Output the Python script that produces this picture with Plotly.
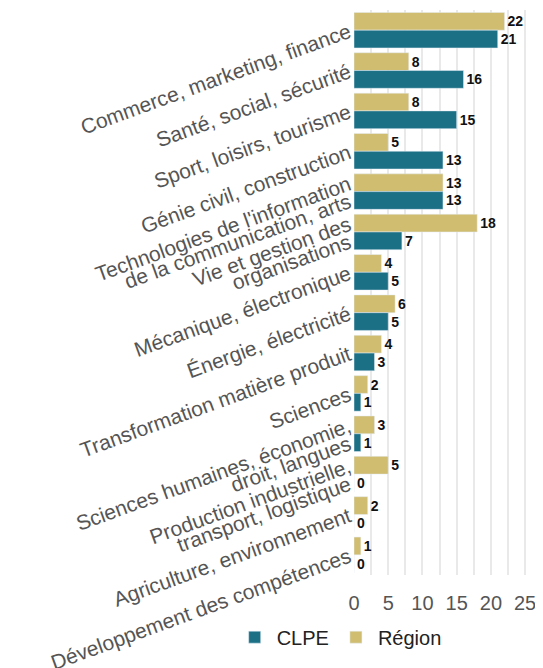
import plotly.graph_objects as go

categories = [
    "Commerce, marketing, finance",
    "Santé, social, sécurité",
    "Sport, loisirs, tourisme",
    "Génie civil, construction",
    "Technologies de l'information<br>de la communication, arts",
    "Vie et gestion des<br>organisations",
    "Mécanique, électronique",
    "Énergie, électricité",
    "Transformation matière produit",
    "Sciences",
    "Sciences humaines, économie,<br>droit, langues",
    "Production industrielle,<br>transport, logistique",
    "Agriculture, environnement",
    "Développement des compétences",
]
region = [22, 8, 8, 5, 13, 18, 4, 6, 4, 2, 3, 5, 2, 1]
clpe = [21, 16, 15, 13, 13, 7, 5, 5, 3, 1, 1, 0, 0, 0]
x_ticks = [0, 5, 10, 15, 20, 25]

GOLD = "#d0bd70"
TEAL = "#1b7086"

# category positions on a numeric axis so each label line can get its own tick
pos = list(range(len(categories)))
LINE_STEP = 0.44  # spacing between label lines, in category units
tick_vals, tick_text = [], []
for p, cat in zip(pos, categories):
    lines = cat.split("<br>")
    n = len(lines)
    for k, line in enumerate(lines):
        tick_vals.append(p + (k - (n - 1) / 2) * LINE_STEP)
        tick_text.append(line)

label_font = dict(family="Liberation Sans", size=14, color="#111111", weight="bold")

fig = go.Figure()
fig.add_trace(go.Bar(
    y=pos, x=region, name="Région", orientation="h",
    marker=dict(color=GOLD), text=region, textposition="outside",
    textfont=label_font, cliponaxis=False, legendrank=2,
))
fig.add_trace(go.Bar(
    y=pos, x=clpe, name="CLPE", orientation="h",
    marker=dict(color=TEAL), text=clpe, textposition="outside",
    textfont=label_font, cliponaxis=False, legendrank=1,
))

fig.update_layout(
    width=535, height=660,
    margin=dict(l=346, r=9, t=2, b=93),
    barmode="group", bargap=0.12, bargroupgap=0,
    plot_bgcolor="white", paper_bgcolor="white",
    font=dict(family="Liberation Sans", color="#555555"),
    showlegend=True,
    legend=dict(orientation="h", x=-0.674, xanchor="left", y=-0.11, yanchor="middle",
                font=dict(size=20, color="#222222"), itemwidth=34,
                traceorder="normal"),
    xaxis=dict(range=[0, 26.3], tickvals=x_ticks, showgrid=True, gridcolor="#e9e9e9",
               gridwidth=1.5, zeroline=False, tickfont=dict(size=20, color="#555555"),
               minor=dict(dtick=2.5, showgrid=True, gridcolor="#e9e9e9", gridwidth=1.5),
               ticks="", ticklabelstandoff=14, automargin=False),
    yaxis=dict(range=[len(categories) - 0.5, -0.5], tickvals=tick_vals, ticktext=tick_text,
               tickangle=-20, tickfont=dict(size=21, color="#555555"),
               showgrid=False, zeroline=False, ticks="", ticklabelstandoff=4,
               automargin=False, ticklabeloverflow="allow"),
)

fig.write_html("out.html")
